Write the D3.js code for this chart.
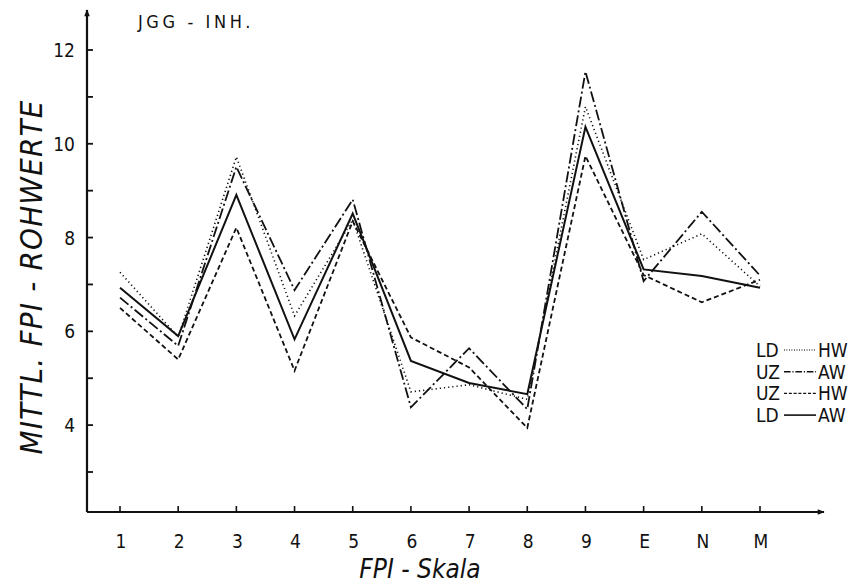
<!DOCTYPE html>
<html lang="de">
<head>
  <meta charset="UTF-8">
  <title>JGG - INH.</title>
  <script src="https://d3js.org/d3.v7.min.js"></script>
  <style>
    body { margin: 0; background: #fff; }
    text { font-family: "DejaVu Sans Condensed", "DejaVu Sans", sans-serif; fill: #111; }
  </style>
</head>
<body>
  <div id="chart"></div>
  <script>
    // FPI scales and mean raw values
    const categories = ['1', '2', '3', '4', '5', '6', '7', '8', '9', 'E', 'N', 'M'];
    const ldHW = [7.26, 5.88, 9.72, 6.33, 8.38, 4.71, 4.86, 4.55, 10.79, 7.53, 8.08, 6.96];
    const uzAW = [6.72, 5.69, 9.51, 6.88, 8.81, 4.38, 5.64, 4.34, 11.54, 7.07, 8.55, 7.19];
    const uzHW = [6.50, 5.40, 8.21, 5.16, 8.35, 5.87, 5.23, 3.94, 9.74, 7.20, 6.62, 7.10];
    const ldAW = [6.93, 5.90, 8.91, 5.83, 8.51, 5.37, 4.90, 4.66, 10.36, 7.32, 7.18, 6.93];
    const yTicks = [3, 4, 5, 6, 7, 8, 9, 10, 11, 12];
    const yLabels = [4, 6, 8, 10, 12];

    const series = [
      { a: 'LD', b: 'HW', values: ldHW, dash: '1.2,3', width: 1.6 },
      { a: 'UZ', b: 'AW', values: uzAW, dash: '11,3,2,3', width: 1.8 },
      { a: 'UZ', b: 'HW', values: uzHW, dash: '5,3', width: 1.8 },
      { a: 'LD', b: 'AW', values: ldAW, dash: null, width: 2 }
    ];

    const W = 867, H = 588;
    const axisX = 87, axisY = 512;

    const svg = d3.select('#chart').append('svg')
      .attr('width', W).attr('height', H);

    const x = d3.scalePoint().domain(categories).range([120, 760]);
    const y = d3.scaleLinear().domain([3, 12]).range([472, 50]);

    // axes with arrows
    svg.append('defs').append('marker')
      .attr('id', 'arrow')
      .attr('viewBox', '0 0 10 10')
      .attr('refX', 9).attr('refY', 5)
      .attr('markerWidth', 16).attr('markerHeight', 7)
      .attr('markerUnits', 'userSpaceOnUse')
      .attr('orient', 'auto')
      .append('path').attr('d', 'M0,1 L10,5 L0,9 Z').attr('fill', '#111');

    svg.append('line')
      .attr('x1', axisX).attr('y1', axisY).attr('x2', axisX).attr('y2', 10)
      .attr('stroke', '#111').attr('stroke-width', 2.2).attr('marker-end', 'url(#arrow)');
    svg.append('line')
      .attr('x1', axisX).attr('y1', axisY).attr('x2', 824).attr('y2', axisY)
      .attr('stroke', '#111').attr('stroke-width', 2.2).attr('marker-end', 'url(#arrow)');

    // y ticks
    svg.selectAll('.ytick').data(yTicks).enter().append('line')
      .attr('x1', axisX).attr('x2', axisX + 6)
      .attr('y1', d => y(d)).attr('y2', d => y(d))
      .attr('stroke', '#111').attr('stroke-width', 1.8);
    svg.selectAll('.ylab').data(yLabels).enter().append('text')
      .attr('x', axisX - 12).attr('y', d => y(d) + 7)
      .attr('text-anchor', 'end')
      .attr('font-size', 19)
      .text(d => d);

    // x ticks
    svg.selectAll('.xtick').data(categories).enter().append('line')
      .attr('x1', d => x(d)).attr('x2', d => x(d))
      .attr('y1', axisY).attr('y2', axisY - 6)
      .attr('stroke', '#111').attr('stroke-width', 1.6);
    svg.selectAll('.xlab').data(categories).enter().append('text')
      .attr('x', d => x(d) + 1).attr('y', 548)
      .attr('text-anchor', 'middle')
      .attr('font-size', 19)
      .text(d => d);

    // axis titles
    svg.append('text')
      .attr('x', 420).attr('y', 578)
      .attr('text-anchor', 'middle')
      .attr('font-size', 26).attr('font-style', 'italic')
      .text('FPI - Skala');
    svg.append('text')
      .attr('transform', 'translate(42,277) rotate(-90)')
      .attr('text-anchor', 'middle')
      .attr('font-size', 31).attr('font-style', 'italic')
      .attr('letter-spacing', 1.2)
      .text('MITTL. FPI - ROHWERTE');

    svg.append('text')
      .attr('x', 138).attr('y', 28)
      .attr('font-size', 18).attr('letter-spacing', 3.6)
      .text('JGG  -  INH.');

    // lines
    const line = d3.line()
      .x((d, i) => x(categories[i]))
      .y(d => y(d));

    svg.selectAll('.series').data(series).enter().append('path')
      .attr('d', d => line(d.values))
      .attr('fill', 'none')
      .attr('stroke', '#111')
      .attr('stroke-width', d => d.width)
      .attr('stroke-dasharray', d => d.dash)
      .attr('stroke-linejoin', 'miter');

    // legend
    const leg = svg.selectAll('.leg').data(series).enter().append('g')
      .attr('transform', (d, i) => `translate(756,${350 + i * 21.7})`);
    leg.append('text').attr('x', 0).attr('y', 7).attr('font-size', 19).text(d => d.a);
    leg.append('line')
      .attr('x1', 28).attr('x2', 60).attr('y1', 0).attr('y2', 0)
      .attr('stroke', '#111')
      .attr('stroke-width', d => d.width * 0.8)
      .attr('stroke-dasharray', d => d.dash ? d.dash.split(',').map(v => v * 0.6).join(',') : null);
    leg.append('text').attr('x', 62).attr('y', 7).attr('font-size', 19).text(d => d.b);
  </script>
</body>
</html>
